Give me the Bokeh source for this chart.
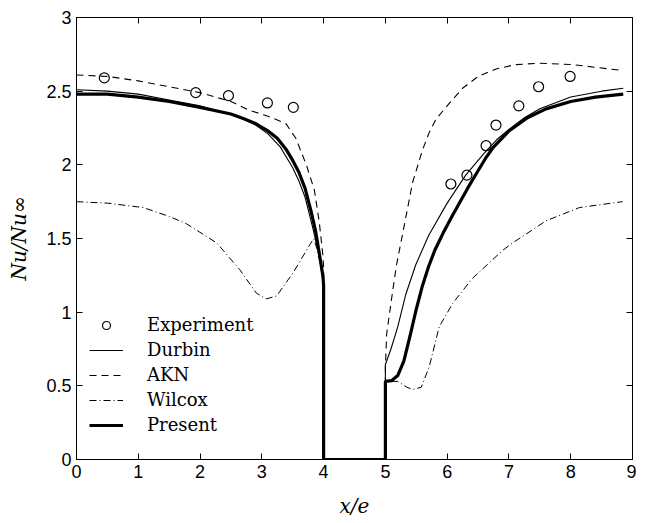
from bokeh.plotting import figure
from bokeh.models import LinearAxis, FixedTicker, Legend, LegendItem, Range1d
from bokeh.embed import file_html
from bokeh.resources import INLINE

# ---- data ----
exp_x = [0.45, 1.93, 2.46, 3.09, 3.51, 6.06, 6.32, 6.63, 6.79, 7.16, 7.48, 7.99]
exp_y = [2.59, 2.49, 2.47, 2.42, 2.39, 1.87, 1.93, 2.13, 2.27, 2.40, 2.53, 2.60]

durbin_x = [0, 0.5, 1, 1.5, 2, 2.5, 2.7, 2.9, 3.1, 3.3, 3.5, 3.6, 3.7, 3.82, 3.93, 4.0, 4.0,
            5.0, 5.0, 5.09, 5.2, 5.33, 5.49, 5.7, 6.0, 6.3, 6.6, 6.8, 7.0, 7.25, 7.5, 8.0, 8.5, 8.85]
durbin_y = [2.51, 2.50, 2.48, 2.44, 2.40, 2.34, 2.31, 2.27, 2.21, 2.12, 1.98, 1.89, 1.78, 1.58, 1.38, 1.18, 0,
            0, 0.645, 0.75, 0.90, 1.12, 1.32, 1.52, 1.74, 1.93, 2.08, 2.17, 2.24, 2.32, 2.38, 2.46, 2.50, 2.52]

akn_x = [0, 0.5, 1, 1.5, 2, 2.5, 2.8, 3.1, 3.39, 3.55, 3.72, 3.85, 3.93, 3.99, 4.0, 4.0,
         5.0, 5.0, 5.02, 5.06, 5.12, 5.18, 5.25, 5.32, 5.44, 5.6, 5.71, 5.82, 6.04, 6.25, 6.5, 6.79, 7.1, 7.49, 8.03, 8.85]
akn_y = [2.61, 2.60, 2.57, 2.53, 2.49, 2.43, 2.37, 2.33, 2.28, 2.18, 2.00, 1.83, 1.61, 1.38, 1.30, 0,
         0, 0.62, 0.85, 0.97, 1.15, 1.32, 1.47, 1.62, 1.88, 2.10, 2.22, 2.31, 2.42, 2.52, 2.60, 2.65, 2.68, 2.69, 2.68, 2.64]

wilcox_x = [0, 0.5, 1.08, 1.5, 1.78, 2.27, 2.64, 2.91, 3.07, 3.24, 3.51, 3.78, 3.84, 3.9, 3.96, 4.0, 4.0,
            5.0, 5.0, 5.2, 5.35, 5.44, 5.58, 5.71, 5.87, 6.09, 6.41, 6.9, 7.06, 7.6, 8.14, 8.84]
wilcox_y = [1.75, 1.74, 1.71, 1.65, 1.60, 1.47, 1.29, 1.13, 1.09, 1.11, 1.27, 1.46, 1.50, 1.42, 1.30, 1.20, 0,
            0, 0.53, 0.53, 0.49, 0.475, 0.49, 0.63, 0.90, 1.06, 1.23, 1.42, 1.47, 1.62, 1.71, 1.75]

present_x = [0, 0.5, 1, 1.5, 2, 2.5, 2.7, 2.9, 3.0, 3.1, 3.25, 3.4, 3.5, 3.6, 3.7, 3.8, 3.87, 3.93, 3.99, 4.0, 4.0,
             5.0, 5.0, 5.1, 5.2, 5.3, 5.4, 5.5, 5.6, 5.7, 5.8, 5.95, 6.09, 6.33, 6.5, 6.63, 6.75,
             7.0, 7.3, 7.6, 8.0, 8.4, 8.85]
present_y = [2.48, 2.48, 2.46, 2.43, 2.39, 2.345, 2.315, 2.28, 2.255, 2.23, 2.18, 2.10, 2.03, 1.95, 1.84, 1.68, 1.55, 1.40, 1.24, 1.18, 0,
             0, 0.53, 0.535, 0.57, 0.67, 0.84, 1.02, 1.18, 1.31, 1.42, 1.55, 1.66, 1.84, 1.96, 2.05, 2.12,
             2.23, 2.32, 2.38, 2.43, 2.46, 2.48]

x_ticks = [0, 1, 2, 3, 4, 5, 6, 7, 8, 9]
x_tick_labels = ["0", "1", "2", "3", "4", "5", "6", "7", "8", "9"]
y_ticks = [0, 0.5, 1, 1.5, 2, 2.5, 3]
y_tick_labels = ["0", "0.5", "1", "1.5", "2", "2.5", "3"]

legend_labels = ["Experiment", "Durbin", "AKN", "Wilcox", "Present"]

# ---- figure ----
p = figure(frame_width=556, frame_height=442, output_backend="svg", toolbar_location=None,
           x_range=Range1d(0, 9), y_range=Range1d(0, 3),
           min_border_left=76, min_border_top=17, min_border_right=4, min_border_bottom=40)
p.xgrid.visible = False
p.ygrid.visible = False
p.outline_line_color = "black"
p.outline_line_width = 1
p.background_fill_color = "white"
p.border_fill_color = "white"

tick_font = "Liberation Sans"
for ax, ticks, labels in [(p.xaxis[0], x_ticks, x_tick_labels), (p.yaxis[0], y_ticks, y_tick_labels)]:
    ax.ticker = FixedTicker(ticks=ticks)
    ax.major_label_overrides = {t: l for t, l in zip(ticks, labels)}
    ax.major_tick_in = 6
    ax.major_tick_out = 0
    ax.minor_tick_line_color = None
    ax.major_label_text_font = tick_font
    ax.major_label_text_font_size = "18px"
    ax.major_label_text_color = "black"
    ax.axis_line_color = "black"
    ax.major_tick_line_color = "black"
    ax.major_label_standoff = 5
    ax.axis_label_text_font = "DejaVu Serif"
    ax.axis_label_text_font_style = "italic"
    ax.axis_label_text_font_size = "20px"
    ax.axis_label_text_color = "black"

p.xaxis[0].axis_label = "x/e"
p.xaxis[0].axis_label_standoff = 13
p.yaxis[0].axis_label = "Nu/Nu∞"
p.yaxis[0].axis_label_standoff = 12

for loc, ticks in [("above", x_ticks), ("right", y_ticks)]:
    ax = LinearAxis(ticker=FixedTicker(ticks=ticks))
    ax.major_tick_in = 6
    ax.major_tick_out = 0
    ax.minor_tick_line_color = None
    ax.major_label_text_color = None
    ax.major_label_text_font_size = "1px"
    ax.major_label_standoff = 0
    ax.axis_line_color = "black"
    ax.major_tick_line_color = "black"
    p.add_layout(ax, loc)

# ---- glyphs ----
r_exp = p.scatter(exp_x, exp_y, marker="circle", size=10, fill_color=None,
                  line_color="black", line_width=1.2)
r_dur = p.line(durbin_x, durbin_y, line_color="black", line_width=1.1)
r_akn = p.line(akn_x, akn_y, line_color="black", line_width=1.1, line_dash="7 5")
r_wil = p.line(wilcox_x, wilcox_y, line_color="black", line_width=1.0, line_dash="7 3 1 3")
r_pre = p.line(present_x, present_y, line_color="black", line_width=3.2)

items = [LegendItem(label=lab, renderers=[r]) for lab, r in
         zip(legend_labels, [r_exp, r_dur, r_akn, r_wil, r_pre])]
legend = Legend(items=items, location=(13, 24), border_line_color=None,
                background_fill_alpha=0, padding=0, margin=0, spacing=4,
                glyph_width=34, glyph_height=20, label_height=20, label_standoff=24,
                label_text_font="DejaVu Serif", label_text_font_size="18px",
                label_text_color="black")
p.add_layout(legend, "center")

open("out.html", "w").write(file_html(p, INLINE))
